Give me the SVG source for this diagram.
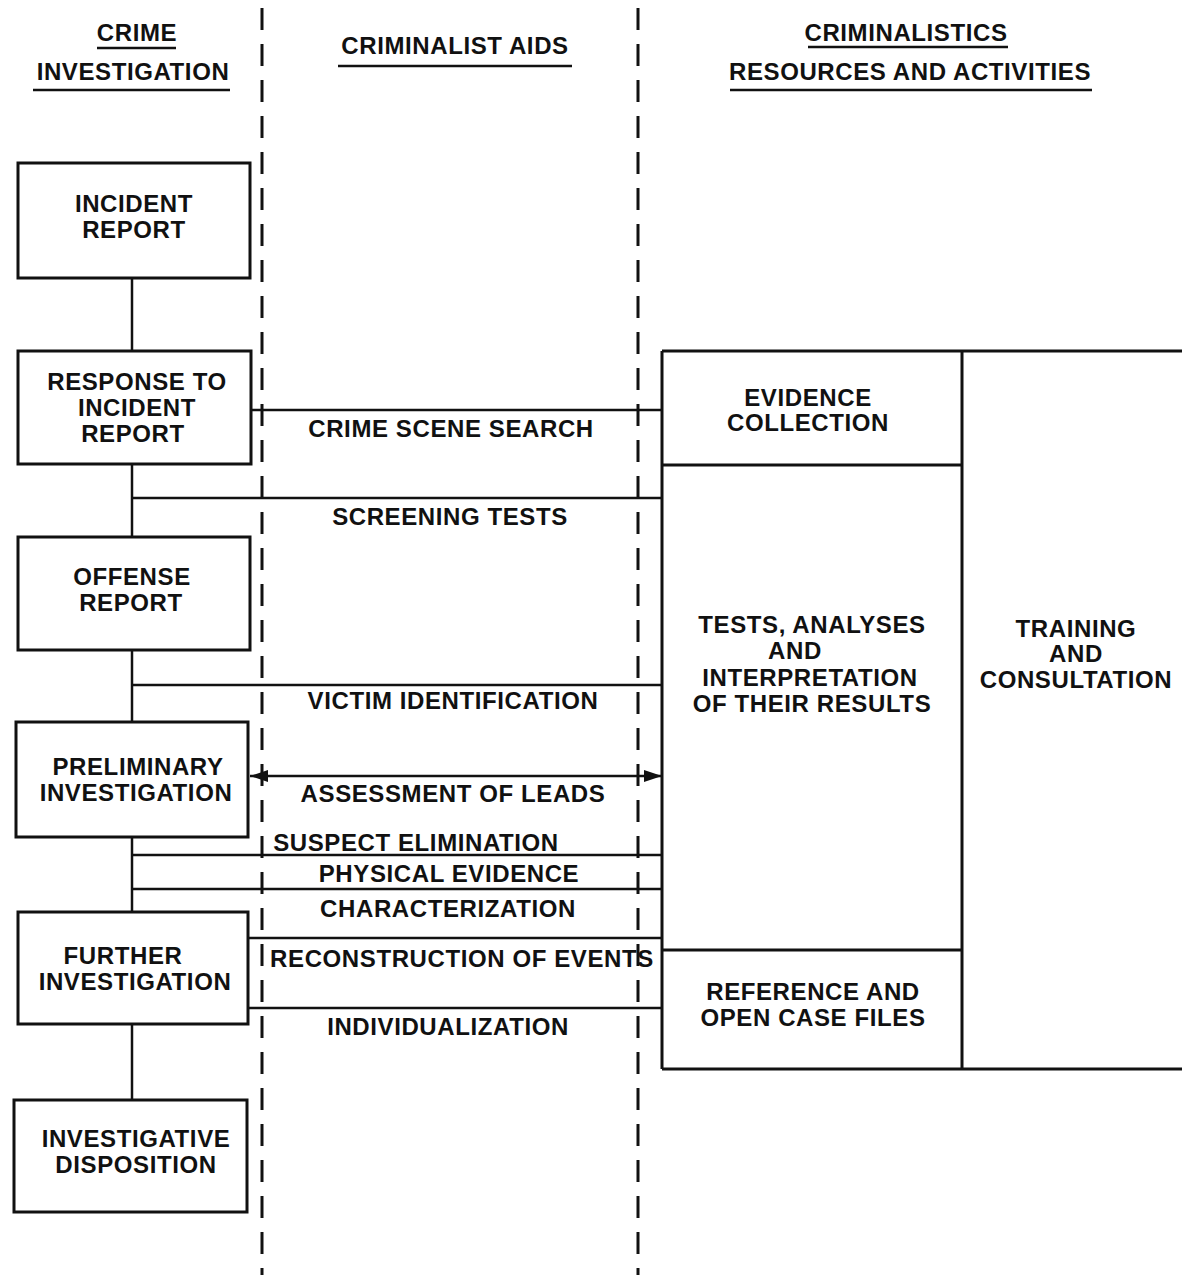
<svg xmlns="http://www.w3.org/2000/svg" width="1182" height="1275" viewBox="0 0 1182 1275">
<style>
text{font-family:"Liberation Sans",Arial,sans-serif;font-weight:bold;font-size:24px;fill:#111;text-anchor:middle;letter-spacing:0.6px}
.box{fill:#fff;stroke:#111;stroke-width:3}
.ln{stroke:#111;stroke-width:2.5;fill:none}
.dash{stroke:#111;stroke-width:3;stroke-dasharray:22 14;fill:none}
.ul{stroke:#111;stroke-width:2.5}
</style>
<defs>
<marker id="ah" viewBox="0 0 18 12" refX="18" refY="6" markerWidth="18" markerHeight="12" markerUnits="userSpaceOnUse" orient="auto-start-reverse">
<path d="M0,0 L18,6 L0,12 Z" fill="#111"/>
</marker>
</defs>
<rect width="1182" height="1275" fill="#fff"/>

<g id="lanes">
<line class="dash" x1="262" y1="8" x2="262" y2="1275"/>
<line class="dash" x1="638" y1="8" x2="638" y2="1275"/>
</g>

<g id="headers">
<text x="137" y="41">CRIME</text>
<line class="ul" x1="97" y1="48" x2="176" y2="48"/>
<text x="133" y="80">INVESTIGATION</text>
<line class="ul" x1="33" y1="90" x2="230" y2="90"/>
<text x="455" y="54">CRIMINALIST AIDS</text>
<line class="ul" x1="338" y1="66" x2="572" y2="66"/>
<text x="906" y="41">CRIMINALISTICS</text>
<line class="ul" x1="808" y1="47" x2="1008" y2="47"/>
<text x="910" y="80">RESOURCES AND ACTIVITIES</text>
<line class="ul" x1="730" y1="90" x2="1092" y2="90"/>
</g>

<g id="connectors">
<line class="ln" x1="132" y1="278" x2="132" y2="351"/>
<line class="ln" x1="132" y1="464" x2="132" y2="537"/>
<line class="ln" x1="132" y1="650" x2="132" y2="722"/>
<line class="ln" x1="132" y1="837" x2="132" y2="912"/>
<line class="ln" x1="132" y1="1024" x2="132" y2="1100"/>
<line class="ln" x1="251" y1="410" x2="662" y2="410"/>
<line class="ln" x1="132" y1="498" x2="662" y2="498"/>
<line class="ln" x1="132" y1="685" x2="662" y2="685"/>
<line class="ln" x1="250" y1="776" x2="662" y2="776" marker-start="url(#ah)" marker-end="url(#ah)"/>
<line class="ln" x1="132" y1="855" x2="662" y2="855"/>
<line class="ln" x1="132" y1="889" x2="662" y2="889"/>
<line class="ln" x1="248" y1="938" x2="662" y2="938"/>
<line class="ln" x1="248" y1="1008" x2="662" y2="1008"/>
<text x="451" y="437">CRIME SCENE SEARCH</text>
<text x="450" y="525">SCREENING TESTS</text>
<text x="453" y="709">VICTIM IDENTIFICATION</text>
<text x="453" y="802">ASSESSMENT OF LEADS</text>
<text x="416" y="851">SUSPECT ELIMINATION</text>
<text x="449" y="882">PHYSICAL EVIDENCE</text>
<text x="448" y="917">CHARACTERIZATION</text>
<text x="462" y="967">RECONSTRUCTION OF EVENTS</text>
<text x="448" y="1035">INDIVIDUALIZATION</text>
</g>

<g id="incident-report">
<rect class="box" x="18" y="163" width="232" height="115"/>
<text x="134" y="212">INCIDENT</text>
<text x="134" y="238">REPORT</text>
</g>
<g id="response">
<rect class="box" x="18" y="351" width="233" height="113"/>
<text x="137" y="390">RESPONSE TO</text>
<text x="137" y="416">INCIDENT</text>
<text x="133" y="442">REPORT</text>
</g>
<g id="offense-report">
<rect class="box" x="18" y="537" width="232" height="113"/>
<text x="132" y="585">OFFENSE</text>
<text x="131" y="611">REPORT</text>
</g>
<g id="preliminary">
<rect class="box" x="16" y="722" width="232" height="115"/>
<text x="138" y="775">PRELIMINARY</text>
<text x="136" y="801">INVESTIGATION</text>
</g>
<g id="further">
<rect class="box" x="18" y="912" width="230" height="112"/>
<text x="123" y="964">FURTHER</text>
<text x="135" y="990">INVESTIGATION</text>
</g>
<g id="disposition">
<rect class="box" x="14" y="1100" width="233" height="112"/>
<text x="136" y="1147">INVESTIGATIVE</text>
<text x="136" y="1173">DISPOSITION</text>
</g>

<g id="resources">
<line class="ln" x1="662" y1="351" x2="1182" y2="351" style="stroke-width:3"/>
<line class="ln" x1="662" y1="1069" x2="1182" y2="1069" style="stroke-width:3"/>
<line class="ln" x1="662" y1="351" x2="662" y2="1069" style="stroke-width:3"/>
<line class="ln" x1="962" y1="351" x2="962" y2="1069" style="stroke-width:3"/>
</g>
<g id="evidence-collection">
<line class="ln" x1="662" y1="465" x2="962" y2="465" style="stroke-width:3"/>
<text x="808" y="406">EVIDENCE</text>
<text x="808" y="431">COLLECTION</text>
</g>
<g id="tests">
<line class="ln" x1="662" y1="950" x2="962" y2="950" style="stroke-width:3"/>
<text x="812" y="633">TESTS, ANALYSES</text>
<text x="795" y="659">AND</text>
<text x="810" y="686">INTERPRETATION</text>
<text x="812" y="712">OF THEIR RESULTS</text>
</g>
<g id="reference">
<text x="813" y="1000">REFERENCE AND</text>
<text x="813" y="1026">OPEN CASE FILES</text>
</g>
<g id="training">
<text x="1076" y="637">TRAINING</text>
<text x="1076" y="662">AND</text>
<text x="1076" y="688">CONSULTATION</text>
</g>
</svg>
